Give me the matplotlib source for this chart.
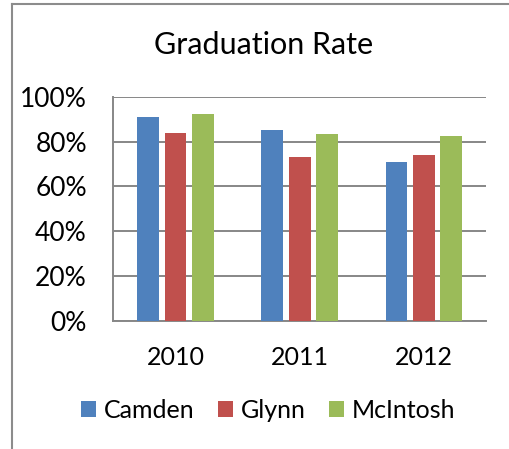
import numpy as np
import matplotlib
matplotlib.use('Agg')
import matplotlib.pyplot as plt
from matplotlib.lines import Line2D

years = ['2010', '2011', '2012']
camden = [0.91, 0.85, 0.71]
glynn = [0.84, 0.73, 0.74]
mcintosh = [0.925, 0.835, 0.825]
series_names = ['Camden', 'Glynn', 'McIntosh']
colors = ['#4F81BD', '#C0504D', '#9BBB59']

plt.rcParams['font.family'] = ['Lato', 'DejaVu Sans']

fig = plt.figure(figsize=(5.10, 4.49), dpi=100)
ax = fig.add_axes([0.2222, 0.2857, 0.7308, 0.4989])

x = np.arange(len(years))
spacing = 0.221
width = 0.175
for i, (vals, name, c) in enumerate(zip([camden, glynn, mcintosh], series_names, colors)):
    ax.bar(x + (i - 1) * spacing, vals, width, color=c, label=name, zorder=3)

ax.set_xlim(-0.5, 2.5)
ax.set_ylim(0, 1.0)
ax.set_yticks(np.arange(0, 1.01, 0.2))
ax.set_yticklabels([f'{int(round(v * 100))}%' for v in np.arange(0, 1.01, 0.2)])
ax.set_xticks(x)
ax.set_xticklabels(years)
ax.tick_params(axis='both', length=0, labelsize=18, colors='black')
ax.tick_params(axis='y', labelsize=19, pad=19)
ax.tick_params(axis='x', pad=18)
ax.grid(axis='y', color='#878787', linewidth=1.4, zorder=0)
for s in ['top', 'right']:
    ax.spines[s].set_visible(False)
for s in ['left', 'bottom']:
    ax.spines[s].set_color('#878787')
    ax.spines[s].set_linewidth(1.4)

fig.text(0.516, 0.9, 'Graduation Rate', ha='center', va='center', fontsize=22)

fig.legend(loc='center', bbox_to_anchor=(0.5255, 0.0853), ncol=3, frameon=False,
           fontsize=18, handlelength=0.6, handleheight=0.6, handletextpad=0.3,
           columnspacing=0.95)

# outer chart border (cropped on right/bottom)
fig.add_artist(Line2D([0.0229, 0.0229], [0, 0.991], color='#8c8c8c', linewidth=1.5))
fig.add_artist(Line2D([0.0229, 1.0], [0.991, 0.991], color='#8c8c8c', linewidth=1.5))

fig.savefig('out.png', dpi=100)
